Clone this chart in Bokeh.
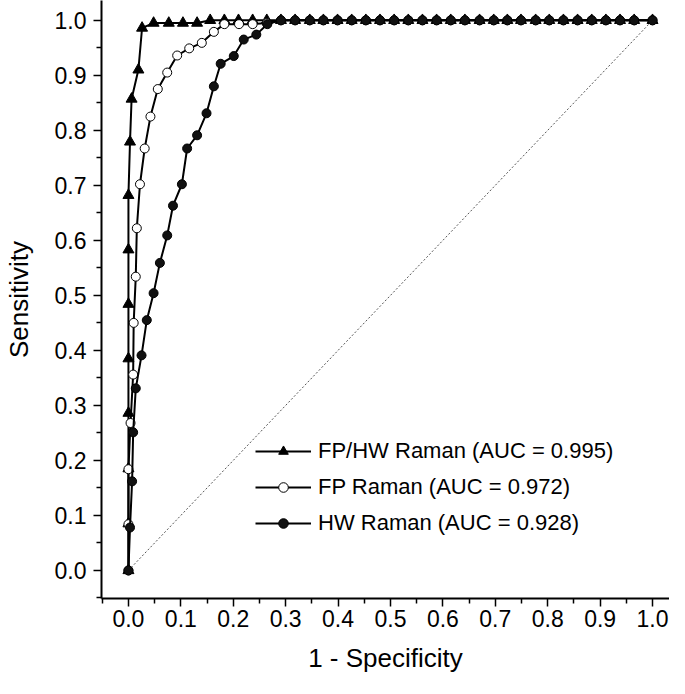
from bokeh.plotting import figure
from bokeh.models import FixedTicker, Range1d, Legend, LegendItem, PrintfTickFormatter
from bokeh.embed import file_html
from bokeh.resources import INLINE

# ---- data ----
fphw_x = [0, 0, 0, 0, 0, 0, 0, 0, 0.003, 0.006, 0.019, 0.026, 0.048, 0.077, 0.104, 0.131,
          0.156, 0.183, 0.210, 0.237, 0.264, 0.291, 0.318, 0.346, 0.372, 0.399, 0.426, 0.453,
          0.480, 0.507, 0.534, 0.561, 0.588, 0.615, 0.642, 0.670, 0.697, 0.723, 0.749, 0.777,
          0.803, 0.830, 0.857, 0.884, 0.911, 0.938, 0.965, 1.0]
fphw_y = [0, 0.085, 0.185, 0.286, 0.385, 0.484, 0.583, 0.682, 0.779, 0.857, 0.910, 0.986, 0.995,
          0.995, 0.995, 0.995, 1.0, 1.0, 1.0, 1.0, 1.0, 1.0, 1.0, 1.0, 1.0, 1.0, 1.0, 1.0, 1.0,
          1.0, 1.0, 1.0, 1.0, 1.0, 1.0, 1.0, 1.0, 1.0, 1.0, 1.0, 1.0, 1.0, 1.0, 1.0, 1.0, 1.0,
          1.0, 1.0]

fp_x = [0, 0, 0, 0.004, 0.009, 0.010, 0.014, 0.016, 0.022, 0.031, 0.042, 0.056, 0.074, 0.093,
        0.116, 0.140, 0.163, 0.183, 0.211, 0.237, 0.264, 0.291, 0.318, 0.346, 0.372, 0.399,
        0.426, 0.453, 0.480, 0.507, 0.534, 0.561, 0.588, 0.615, 0.642, 0.670, 0.697, 0.723,
        0.749, 0.777, 0.803, 0.830, 0.857, 0.884, 0.911, 0.938, 0.965, 1.0]
fp_y = [0, 0.084, 0.184, 0.268, 0.356, 0.450, 0.534, 0.622, 0.702, 0.767, 0.825, 0.875, 0.905,
        0.936, 0.949, 0.959, 0.979, 0.993, 0.993, 0.993, 0.995, 1.0, 1.0, 1.0, 1.0, 1.0, 1.0,
        1.0, 1.0, 1.0, 1.0, 1.0, 1.0, 1.0, 1.0, 1.0, 1.0, 1.0, 1.0, 1.0, 1.0, 1.0, 1.0, 1.0,
        1.0, 1.0, 1.0, 1.0]

hw_x = [0, 0.003, 0.007, 0.009, 0.014, 0.025, 0.035, 0.048, 0.060, 0.074, 0.085, 0.102, 0.112,
        0.131, 0.149, 0.163, 0.176, 0.201, 0.220, 0.244, 0.265, 0.291, 0.318, 0.346, 0.372,
        0.399, 0.426, 0.453, 0.480, 0.507, 0.534, 0.561, 0.588, 0.615, 0.642, 0.670, 0.697,
        0.723, 0.749, 0.777, 0.803, 0.830, 0.857, 0.884, 0.911, 0.938, 0.965, 1.0]
hw_y = [0, 0.078, 0.162, 0.251, 0.331, 0.391, 0.455, 0.504, 0.559, 0.609, 0.663, 0.702, 0.767,
        0.791, 0.831, 0.880, 0.921, 0.935, 0.965, 0.974, 0.993, 1.0, 1.0, 1.0, 1.0, 1.0, 1.0,
        1.0, 1.0, 1.0, 1.0, 1.0, 1.0, 1.0, 1.0, 1.0, 1.0, 1.0, 1.0, 1.0, 1.0, 1.0, 1.0, 1.0,
        1.0, 1.0, 1.0, 1.0]

chance_x = [0, 1]
chance_y = [0, 1]

labels = ["FP/HW Raman (AUC = 0.995)", "FP Raman (AUC = 0.972)", "HW Raman (AUC = 0.928)"]
major_ticks = [0.0, 0.1, 0.2, 0.3, 0.4, 0.5, 0.6, 0.7, 0.8, 0.9, 1.0]
minor_ticks = [-0.05, 0.05, 0.15, 0.25, 0.35, 0.45, 0.55, 0.65, 0.75, 0.85, 0.95, 1.05]

FONT = "Liberation Sans"

p = figure(width=669, height=678, output_backend="svg", toolbar_location=None,
           x_range=Range1d(-0.0514, 1.0324), y_range=Range1d(-0.051, 1.036),
           min_border_left=100, min_border_right=0, min_border_top=0, min_border_bottom=80,
           title=None)
p.outline_line_color = None
p.grid.visible = False

for ax in (p.xaxis[0], p.yaxis[0]):
    ax.ticker = FixedTicker(ticks=major_ticks, minor_ticks=minor_ticks)
    ax.formatter = PrintfTickFormatter(format="%.1f")
    ax.axis_line_width = 2
    ax.axis_line_color = "black"
    ax.major_tick_line_width = 1.5
    ax.minor_tick_line_width = 1.5
    ax.major_tick_out = 8
    ax.major_tick_in = 0
    ax.minor_tick_out = 5
    ax.minor_tick_in = 0
    ax.major_label_text_font = FONT
    ax.major_label_text_font_size = "23px"
    ax.major_label_text_color = "black"
    ax.axis_label_text_font = FONT
    ax.axis_label_text_font_size = "26px"
    ax.axis_label_text_font_style = "normal"
    ax.axis_label_text_color = "black"

p.xaxis[0].major_label_standoff = 3
p.yaxis[0].major_label_standoff = 7
p.xaxis[0].axis_label = "1 - Specificity"
p.yaxis[0].axis_label = "Sensitivity"
p.xaxis[0].axis_label_standoff = 13
p.yaxis[0].axis_label_standoff = 18

p.line(chance_x, chance_y, line_color="#555555", line_width=1, line_dash="2 2")

l1 = p.line(fphw_x, fphw_y, line_color="black", line_width=2)
s1 = p.scatter(fphw_x, fphw_y, marker="triangle", size=11, fill_color="black", line_color="black")
l2 = p.line(fp_x, fp_y, line_color="black", line_width=2)
s2 = p.scatter(fp_x, fp_y, marker="circle", size=9, fill_color="white", line_color="black", line_width=1)
l3 = p.line(hw_x, hw_y, line_color="black", line_width=2)
s3 = p.scatter(hw_x, hw_y, marker="circle", size=9, fill_color="#111111", line_color="black")

legend = Legend(items=[LegendItem(label=labels[0], renderers=[l1, s1]),
                       LegendItem(label=labels[1], renderers=[l2, s2]),
                       LegendItem(label=labels[2], renderers=[l3, s3])],
                location=(154, 62))
legend.glyph_width = 56
legend.glyph_height = 24
legend.label_height = 24
legend.spacing = 10
legend.padding = 0
legend.margin = 0
legend.label_standoff = 7
legend.border_line_color = None
legend.background_fill_alpha = 0
legend.label_text_font = FONT
legend.label_text_font_size = "22px"
legend.label_text_color = "black"
p.add_layout(legend)

open("out.html", "w").write(file_html(p, INLINE))
